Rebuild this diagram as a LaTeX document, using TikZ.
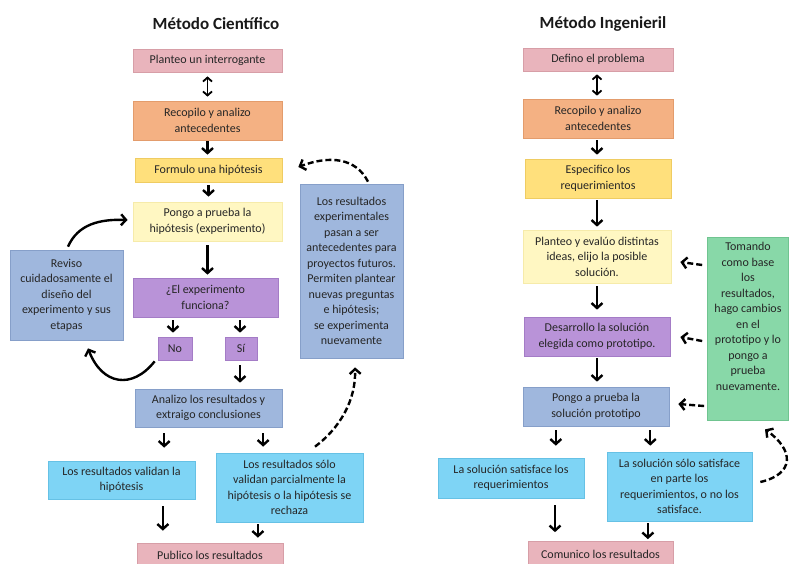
\documentclass[tikz,border=0pt]{standalone}
\usepackage{fontspec}
\setmainfont{Carlito}
\usetikzlibrary{arrows.meta,calc}
\definecolor{cpink}{HTML}{E9B4BC}\definecolor{cpinkd}{HTML}{D79EA7}
\definecolor{corange}{HTML}{F4B183}\definecolor{coranged}{HTML}{E39C6C}
\definecolor{cyel}{HTML}{FFE07C}\definecolor{cyeld}{HTML}{EFCC62}
\definecolor{clyel}{HTML}{FFF7C2}\definecolor{clyeld}{HTML}{F6EBAA}
\definecolor{cpur}{HTML}{B993D8}\definecolor{cpurd}{HTML}{A47CC6}
\definecolor{cblue}{HTML}{9FB7DD}\definecolor{cblued}{HTML}{869FC9}
\definecolor{ccyan}{HTML}{7ED4F5}\definecolor{ccyand}{HTML}{66C1E5}
\definecolor{cgreen}{HTML}{88D8A8}\definecolor{cgreend}{HTML}{70C490}
\definecolor{ctxt}{HTML}{262626}
\begin{document}
\begin{tikzpicture}[x=1pt,y=-1pt,
  bx/.style={rectangle, line width=0.7pt, align=center, text=ctxt, inner sep=1.5pt,
    font=\fontsize{12}{15.5}\selectfont},
  wh/.style 2 args={minimum width=#1, minimum height=#2},
  pinkbox/.style={bx, fill=cpink, draw=cpinkd},
  orbox/.style={bx, fill=corange, draw=coranged},
  yelbox/.style={bx, fill=cyel, draw=cyeld},
  lyelbox/.style={bx, fill=clyel, draw=clyeld},
  purbox/.style={bx, fill=cpur, draw=cpurd},
  bluebox/.style={bx, fill=cblue, draw=cblued},
  cyanbox/.style={bx, fill=ccyan, draw=ccyand},
  greenbox/.style={bx, fill=cgreen, draw=cgreend},
  ttl/.style={font=\fontsize{17}{20}\selectfont\bfseries, text=black!90},
  arr/.style={line width=2.4pt, -{Straight Barb[length=5pt,width=11pt,line width=2.4pt]}},
  darr/.style={arr, dash pattern=on 6pt off 3pt},
  dbl/.style={line width=1.8pt, {Straight Barb[length=4pt,width=9pt,line width=1.8pt]}-{Straight Barb[length=4pt,width=9pt,line width=1.8pt]}}
]
\fill[white] (0,0) rectangle (790,563);
\useasboundingbox (0,0) rectangle (790,563);

% ---------- Left: Metodo Cientifico ----------
\node[ttl] (t1) at (216,24) {Método Científico};
\node[pinkbox, wh={149}{23}] (p1) at (207.5,60.5) {Planteo un interrogante};
\node[orbox, wh={149}{39}] (r1) at (207.5,120.5) {Recopilo y analizo\\antecedentes};
\node[yelbox, wh={147}{24}] (f1) at (208.5,170) {Formulo una hipótesis};
\node[lyelbox, wh={149}{39}] (pp1) at (207.5,221.5) {Pongo a prueba la\\hipótesis (experimento)};
\node[purbox, wh={145}{39}] (e1) at (205.5,297.5) {¿El experimento\\funciona?};
\node[purbox, wh={34}{23}] (no) at (175,348.5) {No};
\node[purbox, wh={32}{23}] (si) at (241,348.5) {Sí};
\node[bluebox, wh={113}{90}] (rev) at (66.5,295) {Reviso\\cuidadosamente el\\diseño del\\experimento y sus\\etapas};
\node[bluebox, wh={103}{174}] (big) at (351.5,271) {Los resultados\\experimentales\\pasan a ser\\antecedentes para\\proyectos futuros.\\Permiten plantear\\nuevas preguntas\\e hipótesis;\\se experimenta\\nuevamente};
\node[bluebox, wh={147}{38}] (an) at (208.5,408) {Analizo los resultados y\\extraigo conclusiones};
\node[cyanbox, wh={147}{38}] (val) at (121.5,480) {Los resultados validan la\\hipótesis};
\node[cyanbox, wh={147}{69}] (par) at (289.5,487.5) {Los resultados sólo\\validan parcialmente la\\hipótesis o la hipótesis se\\rechaza};
\node[pinkbox, wh={146}{24}] (pub) at (210,555) {Publico los resultados};

\draw[dbl, shorten <=4pt, shorten >=4pt] (p1.south) -- (p1.south |- r1.north);
\draw[arr, shorten <=1pt, shorten >=3pt] (r1.south) -- (r1.south |- f1.north);
\draw[arr, shorten <=3pt, shorten >=5pt] (f1.south) -- (f1.south |- pp1.north);
\draw[arr, shorten <=4pt, shorten >=3pt] (pp1.south) -- (pp1.south |- e1.north);
\draw[arr, shorten <=3pt, shorten >=4pt] ([xshift=-2pt]no.north |- e1.south) -- ([xshift=-2pt]no.north);
\draw[arr, shorten <=3pt, shorten >=4pt] ([xshift=-1pt]si.north |- e1.south) -- ([xshift=-1pt]si.north);
\draw[arr, shorten <=5pt, shorten >=6pt] ([xshift=-1pt]si.south) -- ([xshift=-1pt]si.south |- an.north);
\coordinate (a1) at ($(an.south west)!0.2!(an.south east)$);
\coordinate (a2) at ($(an.south west)!0.87!(an.south east)$);
\draw[arr, shorten <=6pt, shorten >=13pt] (a1) -- (a1 |- val.north);
\draw[arr, shorten <=6pt, shorten >=6pt] (a2) -- (a2 |- par.north);
\coordinate (v1) at ($(val.south west)!0.78!(val.south east)$);
\coordinate (v2) at ($(par.south west)!0.286!(par.south east)$);
\draw[arr, shorten <=7pt, shorten >=12pt] (v1) -- (v1 |- pub.north);
\draw[arr, shorten <=2pt, shorten >=5pt] (v2) -- (v2 |- pub.north);

\draw[arr] ($(rev.north)+(1.5,-3)$) .. controls (78,224) and (100,219) .. ($(pp1.west)+(-5,-1.5)$);
\draw[arr] ($(no.south west)+(-3,1)$) .. controls (132,390) and (102,385) .. ($(rev.south)+(21.5,8)$);
\draw[darr] ($(big.north)+(16.5,-2)$) .. controls (356,158) and (330,155) .. ($(f1.east)+(16,-3)$);
\draw[darr] ($(par.north)+(25.5,-6)$) .. controls (340,428) and (356,400) .. ($(big.south)+(3.5,9)$);

% ---------- Right: Metodo Ingenieril ----------
\node[ttl] (t2) at (603,24) {Método Ingenieril};
\node[pinkbox, wh={150}{23}] (d2) at (598,59.5) {Defino el problema};
\node[orbox, wh={150}{39}] (r2) at (598,118.5) {Recopilo y analizo\\antecedentes};
\node[yelbox, wh={146}{39}] (s2) at (598,178.5) {Especifico los\\requerimientos};
\node[lyelbox, wh={148}{53}] (pl2) at (597,256.5) {Planteo y evalúo distintas\\ideas, elijo la posible\\solución.};
\node[purbox, wh={146}{39}] (de2) at (597,336.5) {Desarrollo la solución\\elegida como prototipo.};
\node[bluebox, wh={146}{39}] (pp2) at (596,406.5) {Pongo a prueba la\\solución prototipo};
\node[cyanbox, wh={146}{40}] (sat2) at (511,478) {La solución satisface los\\requerimientos};
\node[cyanbox, wh={145}{69}] (par2) at (679.5,486.5) {La solución sólo satisface\\en parte los\\requerimientos, o no los\\satisface.};
\node[pinkbox, wh={145}{25}] (com2) at (600.5,554) {Comunico los resultados};
\node[greenbox, wh={80}{183}] (gr) at (748,328.5) {\parbox[c][178pt][t]{78pt}{\centering\vspace{3pt}Tomando\\como base\\los\\resultados,\\hago cambios\\en el\\prototipo y lo\\pongo a\\prueba\\nuevamente.}};

\draw[dbl, shorten <=3pt, shorten >=3pt] ([xshift=-1pt]d2.south) -- ([xshift=-1pt]d2.south |- r2.north);
\draw[arr, shorten <=2pt, shorten >=4pt] ([xshift=-1pt]r2.south) -- ([xshift=-1pt]r2.south |- s2.north);
\draw[arr, shorten <=2pt, shorten >=3pt] ([xshift=-1pt]s2.south) -- ([xshift=-1pt]s2.south |- pl2.north);
\draw[arr, shorten <=3pt, shorten >=7pt] (pl2.south) -- (pl2.south |- de2.north);
\draw[arr, shorten <=2pt, shorten >=5pt] (de2.south) -- (de2.south |- pp2.north);
\coordinate (b1) at ($(pp2.south west)!0.226!(pp2.south east)$);
\coordinate (b2) at ($(pp2.south west)!0.87!(pp2.south east)$);
\draw[arr, shorten <=4pt, shorten >=12pt] (b1) -- (b1 |- sat2.north);
\draw[arr, shorten <=4pt, shorten >=6pt] (b2) -- (b2 |- par2.north);
\coordinate (w1) at ($(sat2.south west)!0.8!(sat2.south east)$);
\coordinate (w2) at ($(par2.south west)!0.283!(par2.south east)$);
\draw[arr, shorten <=7pt, shorten >=9pt] (w1) -- (w1 |- com2.north);
\draw[arr, shorten <=2pt, shorten >=2pt] (w2) -- (w2 |- com2.north);

\draw[darr] ($(gr.west)+(-5,-63.5)$) -- ($(pl2.east)+(9,5.5)$);
\draw[darr] ($(gr.west)+(-5,12.5)$) -- ($(de2.east)+(10,0.5)$);
\draw[darr] ($(gr.west)+(-3,77.5)$) -- ($(pp2.east)+(9,-2.5)$);
\draw[darr] ($(par2.east)+(8,-4.5)$) .. controls (795,474) and (794,450) .. ($(gr.south)+(17,9)$);
\end{tikzpicture}
\end{document}
